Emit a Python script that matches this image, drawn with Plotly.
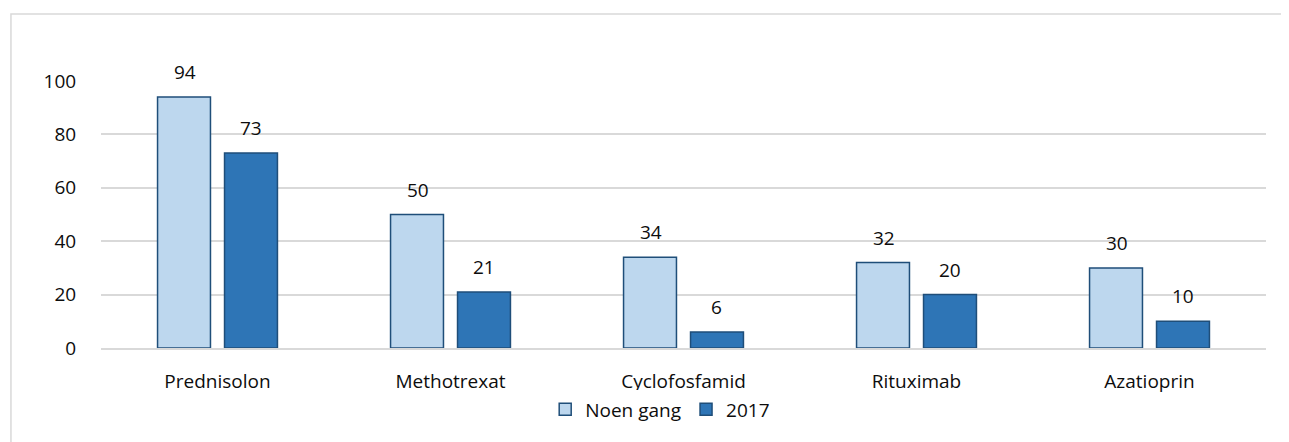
import plotly.graph_objects as go

drugs = ["Prednisolon", "Methotrexat", "Cyclofosfamid", "Rituximab", "Azatioprin"]
noen_gang = [94, 50, 34, 32, 30]
aar_2017 = [73, 21, 6, 20, 10]

font_family = "Open Sans, Carlito, Calibri, sans-serif"
txt_color = "#0D0D0D"
outline = "#1F4E79"

fig = go.Figure()
fig.add_trace(go.Bar(x=drugs, y=noen_gang, name="Noen gang",
                     marker=dict(color="#BDD7EE", line=dict(color=outline, width=1.5))))
fig.add_trace(go.Bar(x=drugs, y=aar_2017, name="2017",
                     marker=dict(color="#2E75B6", line=dict(color=outline, width=1.5))))

# data labels a bit higher above the bars than plotly's own outside text
for vals, dx in [(noen_gang, -33), (aar_2017, 33)]:
    for d, v in zip(drugs, vals):
        fig.add_annotation(x=d, y=v, text=str(v), showarrow=False,
                           xshift=dx, yshift=25, yanchor="middle",
                           font=dict(size=19, color=txt_color, family=font_family))

# page body has an 8px margin, so margins are shifted to land the plot area in place
fig.update_layout(
    width=1289, height=442,
    margin=dict(l=93, r=31, t=73, b=102),
    paper_bgcolor="white", plot_bgcolor="white",
    font=dict(family=font_family, size=19, color=txt_color),
    barmode="group", bargap=0.425, bargroupgap=0.21,
    showlegend=True,
    legend=dict(orientation="h", x=0.48, xanchor="center", y=-0.23, yanchor="middle",
                font=dict(size=19), itemwidth=30, traceorder="normal"),
    xaxis=dict(showline=True, linecolor="#D9D9D9", linewidth=1.5, showgrid=False,
               ticks="outside", ticklen=15, tickcolor="rgba(0,0,0,0)",
               tickfont=dict(size=19)),
    yaxis=dict(range=[0, 100], dtick=20, showgrid=True, gridcolor="#D9D9D9", gridwidth=1.5,
               zeroline=False, ticks="outside", ticklen=20, tickcolor="rgba(0,0,0,0)",
               tickfont=dict(size=19)),
    shapes=[dict(type="rect", xref="paper", yref="paper",
                 x0=-0.0773, x1=1.1, y0=-0.5, y1=1.251,
                 line=dict(color="#D9D9D9", width=1.5), fillcolor="rgba(0,0,0,0)",
                 layer="below")],
)

fig.write_html("out.html")
